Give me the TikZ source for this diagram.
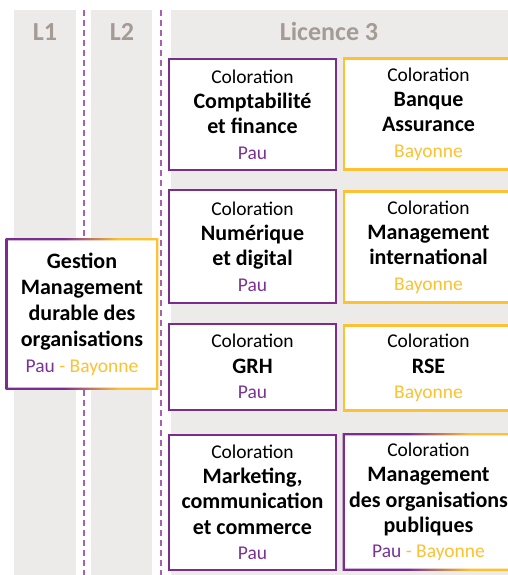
\documentclass[tikz,border=0pt]{standalone}
\usepackage{fontspec}
\setmainfont{Carlito}
\usetikzlibrary{calc}
\definecolor{colgray}{HTML}{EDEBEA}
\definecolor{titlegray}{HTML}{A39B94}
\definecolor{ppurple}{HTML}{7B2D8E}
\definecolor{ptext}{HTML}{7A3394}
\definecolor{yyellow}{HTML}{FDC132}
\definecolor{dashpurple}{HTML}{A85FB4}
\pgfdeclarehorizontalshading{pyshade}{100bp}{color(0bp)=(ppurple); color(44bp)=(ppurple); color(62bp)=(yyellow); color(100bp)=(yyellow)}
\newcommand{\regf}{\fontsize{19.5}{25.3}\selectfont}
\newcommand{\bldf}{\fontsize{22}{25.3}\selectfont\bfseries}
\newcommand{\pau}{\textcolor{ptext}{Pau}}
\newcommand{\bay}{\textcolor{yyellow}{Bayonne}}
\tikzset{
  colbg/.style={fill=colgray, draw=none},
  coltitle/.style={font=\fontsize{26}{28}\selectfont\bfseries, text=titlegray, anchor=base},
  sep/.style={draw=dashpurple, line width=1.8pt, dash pattern=on 6pt off 4pt},
  cbox/.style={rectangle, fill=white, align=center, inner sep=0pt, font=\regf},
  pbox/.style={cbox, draw=ppurple, line width=2pt},
  ybox/.style={cbox, draw=yyellow, line width=2.4pt},
  gbox/.style={cbox, draw=none},
}
\begin{document}
\begin{tikzpicture}[x=1pt, y=-1pt]
\useasboundingbox (0,0) rectangle (508,575);
\clip (0,0) rectangle (508,575);
\fill[white] (0,0) rectangle (508,575);
% columns
\fill[colbg] (14,10) rectangle (76,576);
\fill[colbg] (91,10) rectangle (152,576);
\fill[colbg] (171,10) rectangle (520,576);
\node[coltitle] (t1) at (45,41) {L1};
\node[coltitle] (t2) at (122,41) {L2};
\node[coltitle] (t3) at (329,41) {Licence 3};
% separators
\coordinate (s1a) at (84,10); \coordinate (s1b) at (84,576);
\coordinate (s2a) at (161,10); \coordinate (s2b) at (161,576);
\draw[sep] (s1a) -- (s1b);
\draw[sep] (s2a) -- (s2b);
% purple column
\node[pbox, minimum width=167pt, minimum height=110pt] (p1) at (252.5,114.5) {Coloration\\{\bldf Comptabilité}\\{\bldf et finance}\\\pau};
\node[pbox, minimum width=167pt, minimum height=113pt] (p2) at (252.5,246.5) {Coloration\\{\bldf Numérique}\\{\bldf et digital}\\\pau};
\node[pbox, minimum width=167pt, minimum height=86pt] (p3) at (252.5,366.5) {Coloration\\{\bldf GRH}\\\pau};
\node[pbox, minimum width=167pt, minimum height=135pt] (p4) at (252.5,502) {Coloration\\{\bldf Marketing,}\\{\bldf communication}\\{\bldf et commerce}\\\pau};
% yellow column
\node[ybox, minimum width=169pt, minimum height=111pt] (y1) at (428.5,114) {Coloration\\{\bldf Banque}\\{\bldf Assurance}\\\bay};
\node[ybox, minimum width=169pt, minimum height=111pt] (y2) at (428.5,247) {Coloration\\{\bldf Management}\\{\bldf international}\\\bay};
\node[ybox, minimum width=169pt, minimum height=85pt] (y3) at (428.5,368) {Coloration\\{\bldf RSE}\\\bay};
\node[gbox, minimum width=169pt, minimum height=135pt] (y4) at (428.5,502) {Coloration\\{\bldf Management}\\{\bldf des organisations}\\{\bldf publiques}\\\pau\ \textcolor{yyellow}{- Bayonne}};
\shade[shading=pyshade, even odd rule]
  ($(y4.north west)+(-1.1,-1.1)$) rectangle ($(y4.south east)+(1.1,1.1)$)
  ($(y4.north west)+(1.1,1.1)$) rectangle ($(y4.south east)+(-1.1,-1.1)$);
% gestion box
\node[gbox, minimum width=150pt, minimum height=149pt, font=\fontsize{22}{26}\selectfont\bfseries] (g) at (82,314) {Gestion\\Management\\durable des\\organisations\\{\fontsize{19.5}{26}\selectfont\mdseries\pau\ \textcolor{yyellow}{- Bayonne}}};
\shade[shading=pyshade, even odd rule]
  ($(g.north west)+(-1.1,-1.1)$) rectangle ($(g.south east)+(1.1,1.1)$)
  ($(g.north west)+(1.1,1.1)$) rectangle ($(g.south east)+(-1.1,-1.1)$);
\end{tikzpicture}
\end{document}
